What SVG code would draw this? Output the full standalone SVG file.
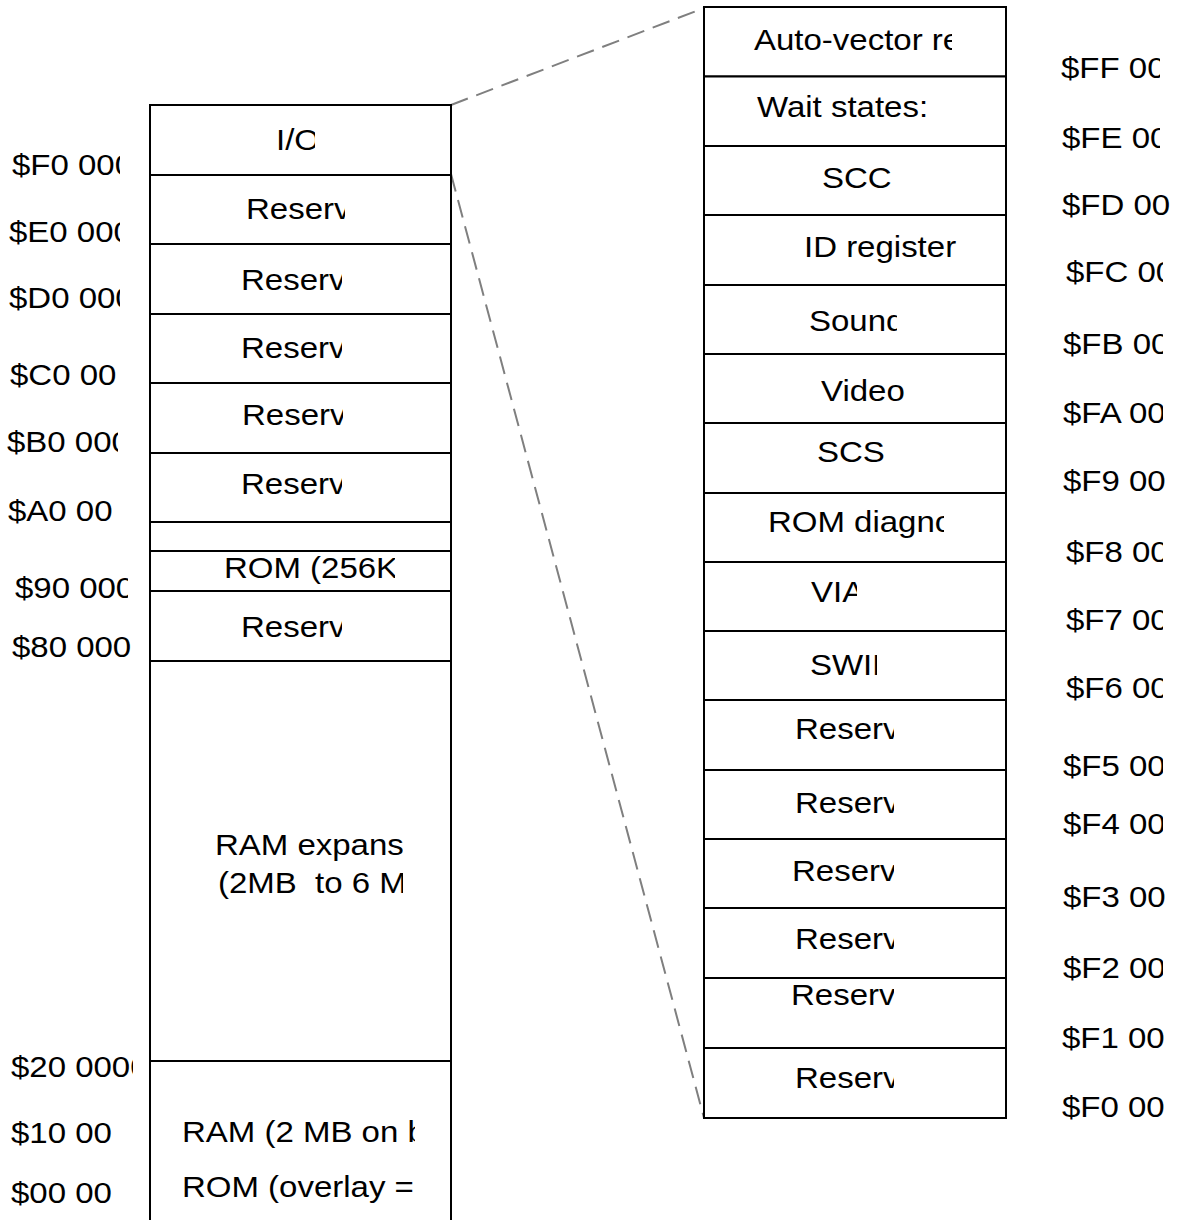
<svg xmlns="http://www.w3.org/2000/svg" width="1184" height="1220" viewBox="0 0 1184 1220">
<style>
.box{fill:#fff;stroke:#000;stroke-width:2}
.t{font-family:"Liberation Sans",Arial,Helvetica,sans-serif;font-size:30px;fill:#000;white-space:pre}
.conn{stroke:#7f7f7f;stroke-width:2;stroke-dasharray:18 9;fill:none}
</style>
<defs>
<clipPath id="c113" clipPathUnits="userSpaceOnUse"><rect x="0" y="0" width="113" height="1220"/></clipPath>
<clipPath id="c118" clipPathUnits="userSpaceOnUse"><rect x="0" y="0" width="118" height="1220"/></clipPath>
<clipPath id="c120" clipPathUnits="userSpaceOnUse"><rect x="0" y="0" width="120" height="1220"/></clipPath>
<clipPath id="c128" clipPathUnits="userSpaceOnUse"><rect x="0" y="0" width="128" height="1220"/></clipPath>
<clipPath id="c133" clipPathUnits="userSpaceOnUse"><rect x="0" y="0" width="133" height="1220"/></clipPath>
<clipPath id="c315" clipPathUnits="userSpaceOnUse"><rect x="0" y="0" width="315" height="1220"/></clipPath>
<clipPath id="c342" clipPathUnits="userSpaceOnUse"><rect x="0" y="0" width="342" height="1220"/></clipPath>
<clipPath id="c343" clipPathUnits="userSpaceOnUse"><rect x="0" y="0" width="343" height="1220"/></clipPath>
<clipPath id="c345" clipPathUnits="userSpaceOnUse"><rect x="0" y="0" width="345" height="1220"/></clipPath>
<clipPath id="c395" clipPathUnits="userSpaceOnUse"><rect x="0" y="0" width="395" height="1220"/></clipPath>
<clipPath id="c403" clipPathUnits="userSpaceOnUse"><rect x="0" y="0" width="403" height="1220"/></clipPath>
<clipPath id="c415" clipPathUnits="userSpaceOnUse"><rect x="0" y="0" width="415" height="1220"/></clipPath>
<clipPath id="c857" clipPathUnits="userSpaceOnUse"><rect x="0" y="0" width="857" height="1220"/></clipPath>
<clipPath id="c877" clipPathUnits="userSpaceOnUse"><rect x="0" y="0" width="877" height="1220"/></clipPath>
<clipPath id="c894" clipPathUnits="userSpaceOnUse"><rect x="0" y="0" width="894" height="1220"/></clipPath>
<clipPath id="c897" clipPathUnits="userSpaceOnUse"><rect x="0" y="0" width="897" height="1220"/></clipPath>
<clipPath id="c944" clipPathUnits="userSpaceOnUse"><rect x="0" y="0" width="944" height="1220"/></clipPath>
<clipPath id="c952" clipPathUnits="userSpaceOnUse"><rect x="0" y="0" width="952" height="1220"/></clipPath>
<clipPath id="c1160" clipPathUnits="userSpaceOnUse"><rect x="0" y="0" width="1160" height="1220"/></clipPath>
<clipPath id="c1163" clipPathUnits="userSpaceOnUse"><rect x="0" y="0" width="1163" height="1220"/></clipPath>
</defs>
<rect x="0" y="0" width="1184" height="1220" fill="#fff"/>

<g id="connectors">
<line class="conn" x1="451" y1="105" x2="704" y2="8"/>
<line class="conn" x1="451" y1="174" x2="704" y2="1118"/>
</g>

<!-- Left memory map -->
<g id="left-io"><rect class="box" x="150" y="105" width="301" height="70"/>
<g clip-path="url(#c315)"><text class="t" transform="translate(276,150) scale(1.1,1)">I/O</text></g></g>
<g id="left-reserved-e0"><rect class="box" x="150" y="175" width="301" height="69"/>
<g clip-path="url(#c345)"><text class="t" transform="translate(246,219) scale(1.1,1)">Reserv</text></g></g>
<g id="left-reserved-d0"><rect class="box" x="150" y="244" width="301" height="70"/>
<g clip-path="url(#c342)"><text class="t" transform="translate(241,290) scale(1.1,1)">Reserv</text></g></g>
<g id="left-reserved-c0"><rect class="box" x="150" y="314" width="301" height="69"/>
<g clip-path="url(#c342)"><text class="t" transform="translate(241,358) scale(1.1,1)">Reserv</text></g></g>
<g id="left-reserved-b0"><rect class="box" x="150" y="383" width="301" height="70"/>
<g clip-path="url(#c343)"><text class="t" transform="translate(242,425) scale(1.1,1)">Reserv</text></g></g>
<g id="left-reserved-a0"><rect class="box" x="150" y="453" width="301" height="69"/>
<g clip-path="url(#c342)"><text class="t" transform="translate(241,494) scale(1.1,1)">Reserv</text></g></g>
<g id="left-empty"><rect class="box" x="150" y="522" width="301" height="29"/></g>
<g id="left-rom"><rect class="box" x="150" y="551" width="301" height="40"/>
<g clip-path="url(#c395)"><text class="t" transform="translate(224,578) scale(1.1,1)">ROM (256K</text></g></g>
<g id="left-reserved-80"><rect class="box" x="150" y="591" width="301" height="70"/>
<g clip-path="url(#c342)"><text class="t" transform="translate(241,637) scale(1.1,1)">Reserv</text></g></g>
<g id="left-ram-expansion"><rect class="box" x="150" y="661" width="301" height="400"/>
<g clip-path="url(#c403)"><text class="t" transform="translate(215,855) scale(1.1,1)">RAM expans</text>
<text class="t" transform="translate(218,893) scale(1.1,1)" xml:space="preserve">(2MB  to 6 M</text></g></g>
<g id="left-ram-rom"><rect class="box" x="150" y="1061" width="301" height="170"/>
<g clip-path="url(#c415)"><text class="t" transform="translate(182,1142) scale(1.1,1)">RAM (2 MB on b</text>
<text class="t" transform="translate(182,1197) scale(1.1,1)">ROM (overlay =</text></g></g>

<!-- Left address labels -->
<g id="left-labels">
<g clip-path="url(#c120)"><text class="t" transform="translate(12,175) scale(1.1,1)">$F0 000</text></g>
<g clip-path="url(#c120)"><text class="t" transform="translate(9,242) scale(1.1,1)">$E0 000</text></g>
<g clip-path="url(#c120)"><text class="t" transform="translate(9,308) scale(1.1,1)">$D0 000</text></g>
<text class="t" transform="translate(10,385) scale(1.1,1)">$C0 00</text>
<g clip-path="url(#c118)"><text class="t" transform="translate(7,452) scale(1.1,1)">$B0 000</text></g>
<g clip-path="url(#c113)"><text class="t" transform="translate(8,521) scale(1.1,1)">$A0 00</text></g>
<g clip-path="url(#c128)"><text class="t" transform="translate(15,598) scale(1.1,1)">$90 000</text></g>
<text class="t" transform="translate(12,657) scale(1.1,1)">$80 000</text>
<g clip-path="url(#c133)"><text class="t" transform="translate(11,1077) scale(1.1,1)">$20 0000</text></g>
<text class="t" transform="translate(11,1143) scale(1.1,1)">$10 00</text>
<text class="t" transform="translate(11,1203) scale(1.1,1)">$00 00</text>
</g>

<!-- Right I/O detail -->
<g id="right-autovector"><rect class="box" x="704" y="7" width="302" height="69.5"/>
<g clip-path="url(#c952)"><text class="t" transform="translate(754,50) scale(1.1,1)">Auto-vector re</text></g></g>
<g id="right-waitstates"><rect class="box" x="704" y="76.5" width="302" height="69.5"/>
<text class="t" transform="translate(757,117) scale(1.1,1)">Wait states:</text></g>
<g id="right-scc"><rect class="box" x="704" y="146" width="302" height="69"/>
<text class="t" transform="translate(822,188) scale(1.1,1)">SCC</text></g>
<g id="right-id"><rect class="box" x="704" y="215" width="302" height="70"/>
<text class="t" transform="translate(804,257) scale(1.1,1)">ID register</text></g>
<g id="right-sound"><rect class="box" x="704" y="285" width="302" height="69"/>
<g clip-path="url(#c897)"><text class="t" transform="translate(809,331) scale(1.1,1)">Sound</text></g></g>
<g id="right-video"><rect class="box" x="704" y="354" width="302" height="69"/>
<text class="t" transform="translate(821,401) scale(1.1,1)">Video</text></g>
<g id="right-scsi"><rect class="box" x="704" y="423" width="302" height="70"/>
<text class="t" transform="translate(817,462) scale(1.1,1)">SCS</text></g>
<g id="right-romdiag"><rect class="box" x="704" y="493" width="302" height="69"/>
<g clip-path="url(#c944)"><text class="t" transform="translate(768,532) scale(1.1,1)">ROM diagno</text></g></g>
<g id="right-via"><rect class="box" x="704" y="562" width="302" height="69"/>
<g clip-path="url(#c857)"><text class="t" transform="translate(811,602) scale(1.1,1)">VIA</text></g></g>
<g id="right-swim"><rect class="box" x="704" y="631" width="302" height="69"/>
<g clip-path="url(#c877)"><text class="t" transform="translate(810,675) scale(1.1,1)">SWIM</text></g></g>
<g id="right-reserved-f5"><rect class="box" x="704" y="700" width="302" height="70"/>
<g clip-path="url(#c894)"><text class="t" transform="translate(795,739) scale(1.1,1)">Reserv</text></g></g>
<g id="right-reserved-f4"><rect class="box" x="704" y="770" width="302" height="69"/>
<g clip-path="url(#c894)"><text class="t" transform="translate(795,813) scale(1.1,1)">Reserv</text></g></g>
<g id="right-reserved-f3"><rect class="box" x="704" y="839" width="302" height="69"/>
<g clip-path="url(#c894)"><text class="t" transform="translate(792,881) scale(1.1,1)">Reserv</text></g></g>
<g id="right-reserved-f2"><rect class="box" x="704" y="908" width="302" height="70"/>
<g clip-path="url(#c894)"><text class="t" transform="translate(795,949) scale(1.1,1)">Reserv</text></g></g>
<g id="right-reserved-f1"><rect class="box" x="704" y="978" width="302" height="70"/>
<g clip-path="url(#c894)"><text class="t" transform="translate(791,1005) scale(1.1,1)">Reserv</text></g></g>
<g id="right-reserved-f0"><rect class="box" x="704" y="1048" width="302" height="70"/>
<g clip-path="url(#c894)"><text class="t" transform="translate(795,1088) scale(1.1,1)">Reserv</text></g></g>

<!-- Right address labels -->
<g id="right-labels">
<g clip-path="url(#c1160)"><text class="t" transform="translate(1061,78) scale(1.1,1)">$FF 00</text></g>
<g clip-path="url(#c1160)"><text class="t" transform="translate(1062,148) scale(1.1,1)">$FE 00</text></g>
<text class="t" transform="translate(1062,215) scale(1.1,1)">$FD 00</text>
<g clip-path="url(#c1163)"><text class="t" transform="translate(1066,282) scale(1.1,1)">$FC 00</text></g>
<g clip-path="url(#c1163)"><text class="t" transform="translate(1063,354) scale(1.1,1)">$FB 00</text></g>
<g clip-path="url(#c1163)"><text class="t" transform="translate(1063,423) scale(1.1,1)">$FA 00</text></g>
<text class="t" transform="translate(1063,491) scale(1.1,1)">$F9 00</text>
<g clip-path="url(#c1163)"><text class="t" transform="translate(1066,562) scale(1.1,1)">$F8 00</text></g>
<g clip-path="url(#c1163)"><text class="t" transform="translate(1066,630) scale(1.1,1)">$F7 00</text></g>
<g clip-path="url(#c1163)"><text class="t" transform="translate(1066,698) scale(1.1,1)">$F6 00</text></g>
<g clip-path="url(#c1163)"><text class="t" transform="translate(1063,776) scale(1.1,1)">$F5 00</text></g>
<g clip-path="url(#c1163)"><text class="t" transform="translate(1063,834) scale(1.1,1)">$F4 00</text></g>
<text class="t" transform="translate(1063,907) scale(1.1,1)">$F3 00</text>
<g clip-path="url(#c1163)"><text class="t" transform="translate(1063,978) scale(1.1,1)">$F2 00</text></g>
<text class="t" transform="translate(1062,1048) scale(1.1,1)">$F1 00</text>
<text class="t" transform="translate(1062,1117) scale(1.1,1)">$F0 00</text>
</g>
</svg>
